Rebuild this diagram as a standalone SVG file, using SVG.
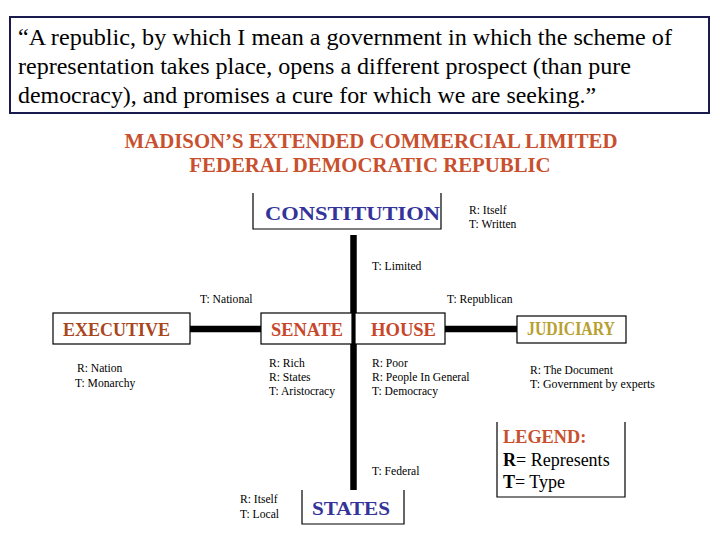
<svg xmlns="http://www.w3.org/2000/svg" width="720" height="540" viewBox="0 0 720 540">
<style>
.q{font-family:"Liberation Serif","Times New Roman",serif;font-size:23.5px;fill:#000}
.ti{font-family:"Liberation Serif","Times New Roman",serif;font-size:20.8px;font-weight:bold;fill:#c8502e}
.nb{font-family:"Liberation Serif","Times New Roman",serif;font-size:18.3px;font-weight:bold}
.box{fill:#fff;stroke:#000;stroke-width:1.2}
.open{fill:none;stroke:#000;stroke-width:1.2}
.s{font-family:"Liberation Serif","Times New Roman",serif;font-size:11.6px;fill:#000}
.lg{font-family:"Liberation Serif","Times New Roman",serif;font-size:18px;fill:#000}
.con{stroke:#000;stroke-width:6.5;fill:none}
</style>
<rect width="720" height="540" fill="#fff"/>
<g id="quote">
<rect x="10" y="17" width="699" height="96" fill="#fff" stroke="#1a1a4d" stroke-width="2"/>
<text class="q" x="18" y="45" textLength="654" lengthAdjust="spacingAndGlyphs">“A republic, by which I mean a government in which the scheme of</text>
<text class="q" x="18" y="74" textLength="613" lengthAdjust="spacingAndGlyphs">representation takes place, opens a different prospect (than pure</text>
<text class="q" x="18" y="103" textLength="578" lengthAdjust="spacingAndGlyphs">democracy), and promises a cure for which we are seeking.”</text>
</g>
<g id="title">
<text class="ti" x="371" y="148" text-anchor="middle">MADISON’S EXTENDED COMMERCIAL LIMITED</text>
<text class="ti" x="370" y="172" text-anchor="middle">FEDERAL DEMOCRATIC REPUBLIC</text>
</g>
<g id="connectors">
<line class="con" x1="353.5" y1="235" x2="353.5" y2="490"/>
<line class="con" x1="190" y1="329" x2="262" y2="329"/>
<line class="con" x1="445" y1="329" x2="517" y2="329"/>
</g>
<g id="constitution">
<path class="open" d="M253 193 V229 H441 V193"/>
<text class="nb" x="265" y="220" fill="#333399" font-size="22" textLength="175" lengthAdjust="spacingAndGlyphs">CONSTITUTION</text>
<text class="s" x="469" y="214">R: Itself</text>
<text class="s" x="469" y="228">T: Written</text>
</g>
<g id="executive">
<rect class="box" x="53" y="313" width="137" height="31"/>
<text class="nb" x="63" y="336" fill="#a8461e" textLength="107" lengthAdjust="spacingAndGlyphs">EXECUTIVE</text>
<text class="s" x="77" y="372">R: Nation</text>
<text class="s" x="75" y="387">T: Monarchy</text>
</g>
<g id="senate">
<rect class="box" x="261" y="313" width="91" height="31"/>
<text class="nb" x="271" y="336" fill="#c8462a" textLength="72" lengthAdjust="spacingAndGlyphs">SENATE</text>
<text class="s" x="269" y="367">R: Rich</text>
<text class="s" x="269" y="381">R: States</text>
<text class="s" x="269" y="395">T: Aristocracy</text>
</g>
<g id="house">
<rect class="box" x="355" y="313" width="90" height="31"/>
<text class="nb" x="371" y="336" fill="#c8462a" textLength="65" lengthAdjust="spacingAndGlyphs">HOUSE</text>
<text class="s" x="372" y="367">R: Poor</text>
<text class="s" x="372" y="381">R: People In General</text>
<text class="s" x="372" y="395">T: Democracy</text>
</g>
<g id="judiciary">
<rect class="box" x="517" y="316" width="109" height="27"/>
<text class="nb" x="527" y="335" fill="#b8a030" font-size="15" textLength="88" lengthAdjust="spacingAndGlyphs">JUDICIARY</text>
<text class="s" x="530" y="374">R: The Document</text>
<text class="s" x="530" y="388" textLength="125" lengthAdjust="spacingAndGlyphs">T: Government by experts</text>
</g>
<g id="states">
<path class="open" d="M302 490 V524 H404 V490"/>
<text class="nb" x="312" y="515" fill="#333399" font-size="21" textLength="78" lengthAdjust="spacingAndGlyphs">STATES</text>
<text class="s" x="240" y="503">R: Itself</text>
<text class="s" x="240" y="518">T: Local</text>
</g>
<g id="legend">
<path class="open" d="M497 422 V497 H625 V422"/>
<text class="nb" x="503" y="443" fill="#c8502e" font-size="17">LEGEND:</text>
<text class="lg" x="503" y="466"><tspan font-weight="bold">R</tspan>= Represents</text>
<text class="lg" x="503" y="488"><tspan font-weight="bold">T</tspan>= Type</text>
</g>
<g id="labels">
<text class="s" x="372" y="270">T: Limited</text>
<text class="s" x="200" y="303">T: National</text>
<text class="s" x="447" y="303">T: Republican</text>
<text class="s" x="372" y="475">T: Federal</text>
</g>
</svg>
